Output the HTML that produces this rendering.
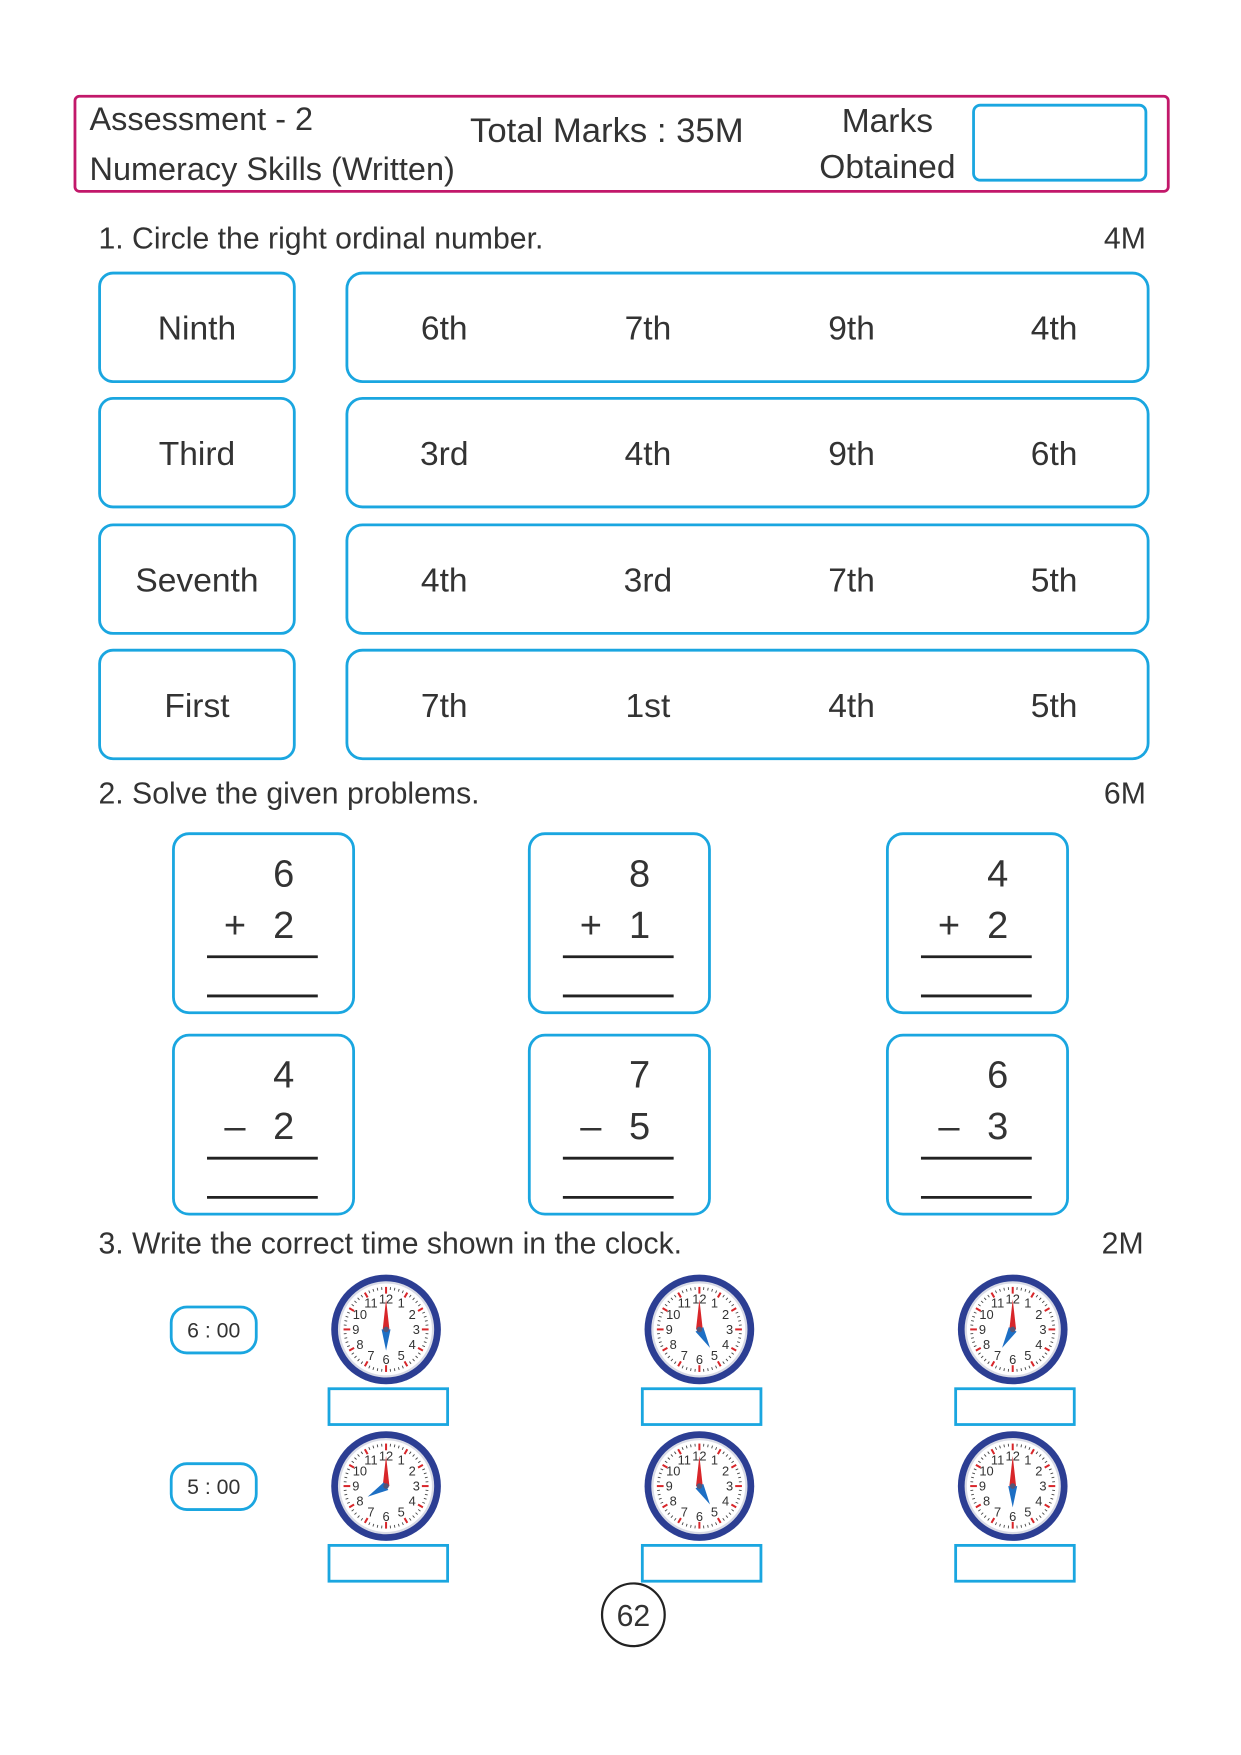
<!DOCTYPE html>
<html><head><meta charset="utf-8">
<style>
html,body{margin:0;padding:0;background:#fff;}
svg{display:block;}
text{font-family:"Liberation Sans",sans-serif;fill:#333;}
</style></head>
<body>
<svg id="pg" xmlns="http://www.w3.org/2000/svg" width="1241" height="1755" viewBox="0 0 1109 1568.3">
<rect x="0" y="0" width="1110" height="1570" fill="#fff"/>
<g>
<rect x="67" y="86" width="977" height="85" rx="4" fill="none" stroke="#c2186a" stroke-width="2.5"/>
<text x="80" y="116" font-size="29">Assessment - 2</text>
<text x="80" y="161" font-size="29">Numeracy Skills (Written)</text>
<text x="420" y="127" font-size="31">Total Marks : 35M</text>
<text x="793" y="118" font-size="30" text-anchor="middle">Marks</text>
<text x="793" y="159" font-size="30" text-anchor="middle">Obtained</text>
<rect x="870" y="94" width="154" height="67" rx="6" fill="none" stroke="#1aa6e0" stroke-width="2.5"/>
</g>
<text x="88" y="222" font-size="27">1. Circle the right ordinal number.</text>
<text x="1024" y="222" font-size="27" text-anchor="end">4M</text>
<g id="q1"></g>
<text x="88" y="718" font-size="27">2. Solve the given problems.</text>
<text x="1024" y="718" font-size="27" text-anchor="end">6M</text>
<g id="q2"></g>
<text x="88" y="1120" font-size="27">3. Write the correct time shown in the clock.</text>
<text x="1022" y="1120" font-size="27" text-anchor="end">2M</text>
<g id="q3"></g>
<g>
<circle cx="566" cy="1443" r="28" fill="none" stroke="#222" stroke-width="2"/>
<text x="566" y="1453" font-size="27" text-anchor="middle">62</text>
</g>
</svg>
<script>
const ordinalWords = ["Ninth","Third","Seventh","First"];
const ordinalOptions = [["6th","7th","9th","4th"],["3rd","4th","9th","6th"],["4th","3rd","7th","5th"],["7th","1st","4th","5th"]];
const problemTop = [6,8,4,4,7,6];
const problemOps = ["+","+","+","\u2013","\u2013","\u2013"];
const problemBottom = [2,1,2,2,5,3];
const timeLabels = ["6 : 00","5 : 00"];
const clockHours = [[6,5,7],[8,5,6]];

const NS="http://www.w3.org/2000/svg";
function mk(tag,attrs,parent){const e=document.createElementNS(NS,tag);for(const k in attrs)e.setAttribute(k,attrs[k]);parent.appendChild(e);return e;}
const blue="#1aa6e0";

const q1=document.getElementById('q1');
const rowTops=[244,356,469,581], rowH=97, optX=[397,579,761,942];
ordinalWords.forEach((w,i)=>{
  const y=rowTops[i];
  const lb=mk('rect',{x:89,y:y,width:174,height:rowH,rx:12,fill:'none',stroke:blue,'stroke-width':2.5},q1);
  
  
  const t=mk('text',{x:176,y:y+rowH/2+11,'font-size':30,'text-anchor':'middle'},q1);t.textContent=w;
  
  
  const rb=mk('rect',{x:310,y:y,width:716,height:rowH,rx:14,fill:'none',stroke:blue,'stroke-width':2.5},q1);
  
  
  ordinalOptions[i].forEach((o,j)=>{
    const ot=mk('text',{x:optX[j],y:y+rowH/2+11,'font-size':30,'text-anchor':'middle'},q1);ot.textContent=o;
    
    
  });
});

const q2=document.getElementById('q2');
const bx=[155,473,793], by=[745,925];
problemTop.forEach((a,i)=>{
  const x=bx[i%3], y=by[Math.floor(i/3)];
  const r=mk('rect',{x:x,y:y,width:161,height:160,rx:14,fill:'none',stroke:blue,'stroke-width':2.5},q2);
  
  
  const t1=mk('text',{x:x+108,y:y+47,'font-size':34,'text-anchor':'end'},q2);t1.textContent=a;
  
  
  const op=mk('text',{x:x+55,y:y+93,'font-size':34,'text-anchor':'middle'},q2);op.textContent=problemOps[i];
  
  
  const t2=mk('text',{x:x+108,y:y+93,'font-size':34,'text-anchor':'end'},q2);t2.textContent=problemBottom[i];
  
  
  const l1=mk('line',{x1:x+30,x2:x+129,y1:y+110,y2:y+110,stroke:'#222','stroke-width':2.5},q2);
  
  
  const l2=mk('line',{x1:x+30,x2:x+129,y1:y+145,y2:y+145,stroke:'#222','stroke-width':2.5},q2);
  
  
});

const q3=document.getElementById('q3');
const cx=[345,625,905], cy=[1188,1328];
timeLabels.forEach((lbl,r)=>{
  const p=mk('rect',{x:153,y:cy[r]-20,width:76,height:41,rx:14,fill:'none',stroke:blue,'stroke-width':2.5},q3);
  
  
  const t=mk('text',{x:191,y:cy[r]+7,'font-size':19,'text-anchor':'middle'},q3);t.textContent=lbl;
  
  
  clockHours[r].forEach((h,c)=>{
    const X=cx[c], Y=cy[r];
    const g=mk('g',{},q3);
    
    
    mk('circle',{cx:X,cy:Y,r:49,fill:'#2c3e93'},g);
    mk('circle',{cx:X,cy:Y,r:42,fill:'#fff',stroke:'#d9dbe6','stroke-width':2},g);
    for(let k=0;k<60;k++){
      const a=k*Math.PI/30, big=k%5==0;
      const r1=38, r2=big?(k%15==0?32:33):35.5;
      mk('line',{x1:X+r1*Math.sin(a),y1:Y-r1*Math.cos(a),x2:X+r2*Math.sin(a),y2:Y-r2*Math.cos(a),stroke:big?'#d8262a':'#444','stroke-width':big?1.8:0.8},g);
    }
    for(let n=1;n<=12;n++){
      const a=n*Math.PI/6;
      const nt=mk('text',{x:X+27*Math.sin(a),y:Y-27*Math.cos(a)+4,'font-size':11.5,'text-anchor':'middle'},g);nt.textContent=n;
    }
    mk('polygon',{points:`${X-3},${Y} ${X},${Y-27} ${X+3},${Y}`,fill:'#d8262a'},g);
    const ha=h*Math.PI/6, L=19;
    const hx=X+L*Math.sin(ha), hy=Y-L*Math.cos(ha);
    const px=4*Math.cos(ha), py=4*Math.sin(ha);
    const hand=mk('polygon',{points:`${X-px},${Y-py} ${hx},${hy} ${X+px},${Y+py}`,fill:'#1d6fc4'},g);
    
    
    mk('circle',{cx:X,cy:Y,r:2.5,fill:'#557'},g);
    const ab=mk('rect',{x:X-51,y:Y+53,width:106,height:32,fill:'none',stroke:blue,'stroke-width':2.5},q3);
    
    
  });
});
</script>
</body></html>
